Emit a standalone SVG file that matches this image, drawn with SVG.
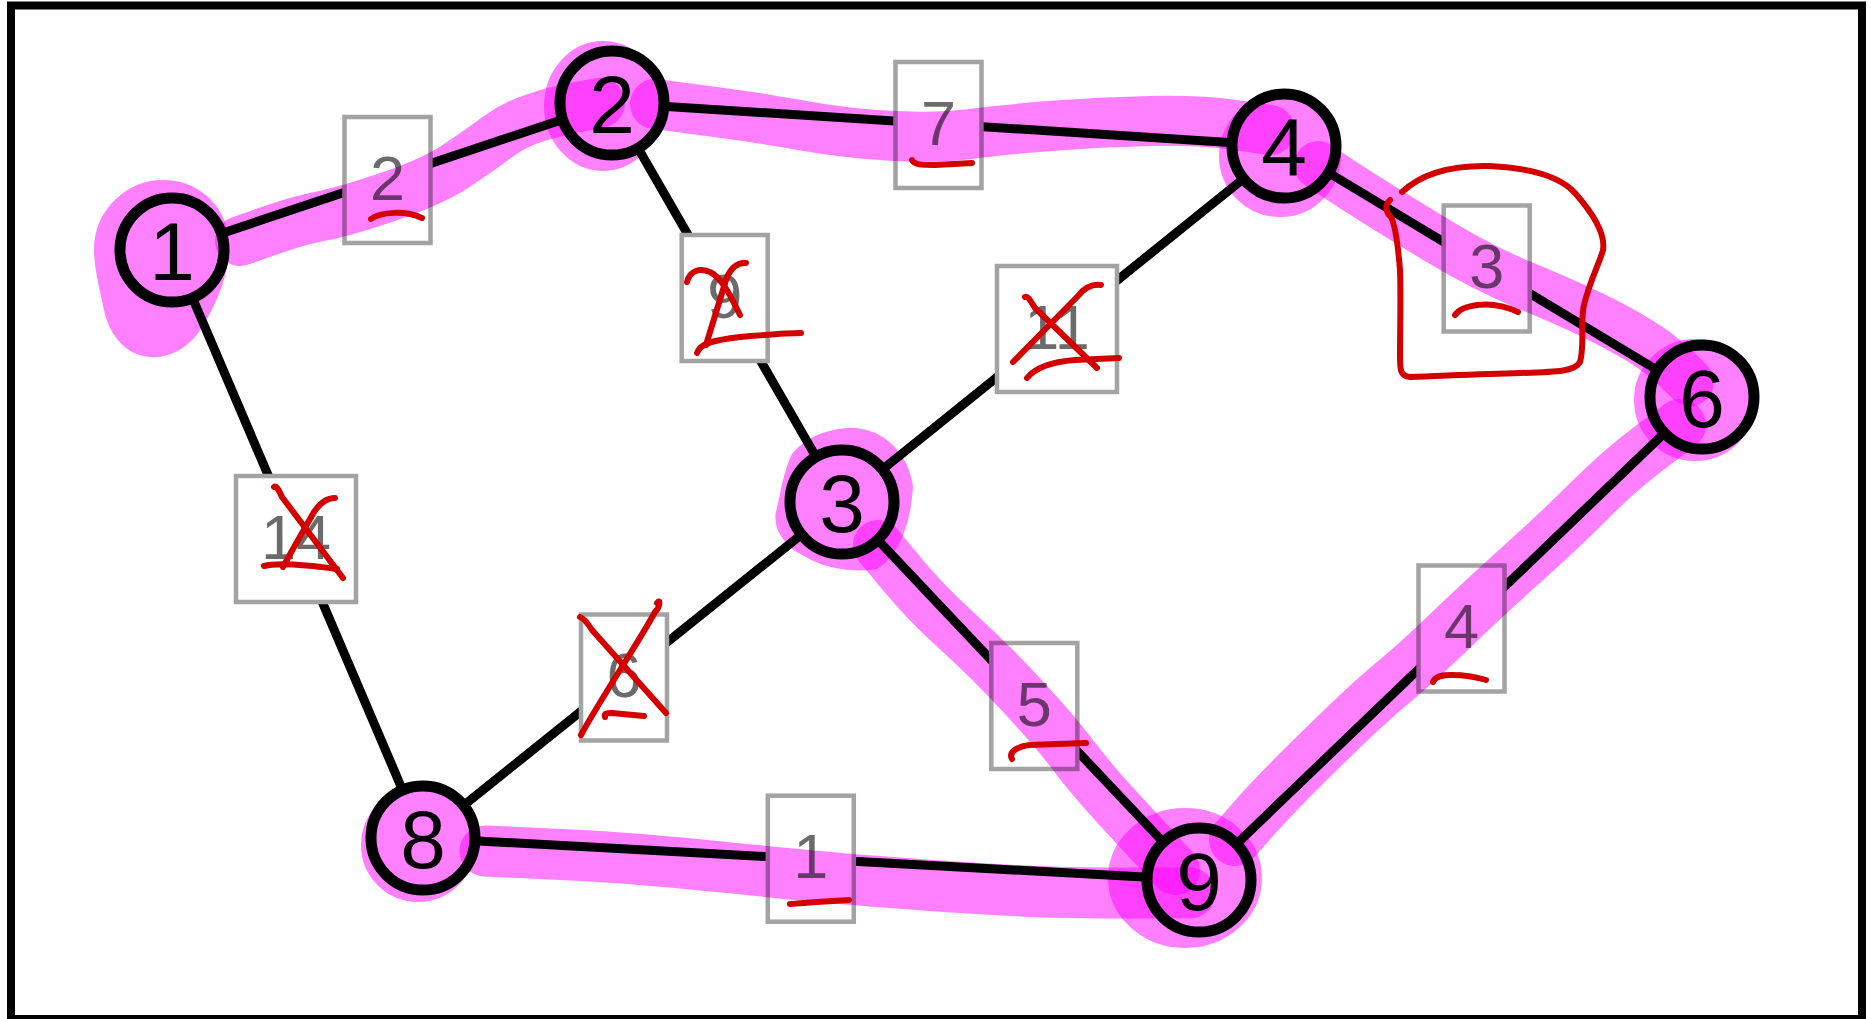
<svg xmlns="http://www.w3.org/2000/svg" width="1871" height="1019" viewBox="0 0 1871 1019">
  <style>
    .edge{stroke:#000;stroke-width:9;stroke-linecap:round}
    .node circle{fill:#fff;stroke:#000;stroke-width:11}
    .node text{font-family:"Liberation Sans",Arial,sans-serif;font-size:82px;text-anchor:middle;fill:#000}
    .lbl rect{fill:#fff;stroke:#a3a3a3;stroke-width:4.5}
    .lbl text{font-family:"Liberation Sans",Arial,sans-serif;font-size:63px;text-anchor:middle;fill:#6b6b6b}
    .hl{mix-blend-mode:multiply}
    .hl path.band{fill:none;stroke:#ff80ff;stroke-width:50;stroke-linecap:round;stroke-linejoin:round}
    .hl .blob{fill:#ff80ff;stroke:#ff80ff;stroke-width:6;stroke-linejoin:round}
    .ink{fill:none;stroke:#d40000;stroke-width:6;stroke-linecap:round;stroke-linejoin:round}
  </style>

  <rect x="0" y="0" width="1871" height="1019" fill="#fff"/>
  <rect x="11" y="5.5" width="1851" height="1013.5" fill="none" stroke="#000" stroke-width="8"/>

  <!-- connectors -->
  <g id="edges">
    <line class="edge" x1="172" y1="250" x2="612" y2="103"/>
    <line class="edge" x1="612" y1="103" x2="1284" y2="146"/>
    <line class="edge" x1="1284" y1="146" x2="1702" y2="397"/>
    <line class="edge" x1="1702" y1="397" x2="1199" y2="880"/>
    <line class="edge" x1="1199" y1="880" x2="423" y2="838"/>
    <line class="edge" x1="423" y1="838" x2="172" y2="250"/>
    <line class="edge" x1="612" y1="103" x2="842" y2="502"/>
    <line class="edge" x1="842" y1="502" x2="1284" y2="146"/>
    <line class="edge" x1="842" y1="502" x2="1199" y2="880"/>
    <line class="edge" x1="842" y1="502" x2="423" y2="838"/>
  </g>

  <!-- edge weight labels -->
  <g id="labels">
    <g id="w-1-2" class="lbl"><rect x="344.5" y="117" width="86" height="126"/><text x="387.5" y="199.5">2</text></g>
    <g id="w-2-4" class="lbl"><rect x="895.5" y="62" width="86" height="126"/><text x="938.5" y="144.5">7</text></g>
    <g id="w-2-3" class="lbl"><rect x="681.7" y="235" width="86" height="126"/><text x="724.7" y="317.5">9</text></g>
    <g id="w-3-4" class="lbl"><rect x="997" y="266" width="120" height="126"/><text x="1057" y="348.5">11</text></g>
    <g id="w-4-6" class="lbl"><rect x="1443.7" y="205.5" width="86" height="126"/><text x="1486.7" y="288">3</text></g>
    <g id="w-1-8" class="lbl"><rect x="236" y="476" width="120" height="126"/><text x="296" y="558.5">14</text></g>
    <g id="w-3-8" class="lbl"><rect x="581" y="614.5" width="86" height="126"/><text x="624" y="697">6</text></g>
    <g id="w-3-9" class="lbl"><rect x="991.3" y="643" width="86" height="126"/><text x="1034.3" y="725.5">5</text></g>
    <g id="w-6-9" class="lbl"><rect x="1418.5" y="565.5" width="86" height="126"/><text x="1461.5" y="648">4</text></g>
    <g id="w-8-9" class="lbl"><rect x="767.8" y="795.7" width="86" height="126"/><text x="810.8" y="878.2">1</text></g>
  </g>

  <!-- vertices -->
  <g id="n1" class="node"><circle cx="172" cy="250" r="52"/><text x="172" y="279.5">1</text></g>
  <g id="n2" class="node"><circle cx="612" cy="103" r="52"/><text x="612" y="132.5">2</text></g>
  <g id="n4" class="node"><circle cx="1284" cy="146" r="52"/><text x="1284" y="175.5">4</text></g>
  <g id="n6" class="node"><circle cx="1702" cy="397" r="52"/><text x="1702" y="426.5">6</text></g>
  <g id="n3" class="node"><circle cx="842" cy="502" r="52"/><text x="842" y="531.5">3</text></g>
  <g id="n8" class="node"><circle cx="423" cy="838" r="52"/><text x="423" y="867.5">8</text></g>
  <g id="n9" class="node"><circle cx="1199" cy="880" r="52"/><text x="1199" y="909.5">9</text></g>

  <!-- highlighter marks (multiply) -->
  <g id="highlight">
    <g class="hl"><path class="blob" d="M163,183 C195,183 222,205 226,240 C228,270 215,300 200,325 C188,345 168,356 150,354 C125,352 110,330 106,305 C103,290 97,270 97,250 C97,212 128,183 163,183 Z"/></g>
    <g class="hl"><path class="band" d="M240,241 L270,230.5 Q300,220 321.5,216 Q343,212 387.5,197 Q432,182 456,166 Q480,150 497.5,137 Q515,124 537.5,117 Q560,110 580,106.5 L600,103"/></g>
    <g class="hl"><ellipse class="blob" cx="603" cy="106" rx="56" ry="62"/></g>
    <g class="hl"><path class="band" d="M655,104 L677.5,107 Q700,110 730,114 Q760,118 805,126 Q850,134 895,136 Q940,138 970,134 Q1000,130 1050,126 Q1100,122 1150,121 Q1200,120 1235,125 L1270,130"/></g>
    <g class="hl"><circle class="blob" cx="1280" cy="156" r="58"/></g>
    <g class="hl"><path class="band" style="stroke-width:48" d="M1318,165 L1329,172.5 Q1340,180 1370,199 Q1400,218 1441.5,243 Q1483,268 1525,285.5 Q1567,303 1592,315 Q1617,327 1638.5,340 Q1660,353 1675,367.5 L1690,382"/></g>
    <g class="hl"><circle class="blob" cx="1695" cy="400" r="58"/></g>
    <g class="hl"><path class="band" style="stroke-width:52" d="M1680,425 L1650,447.5 Q1620,470 1590,500 Q1560,530 1521,565 Q1482,600 1451,630 Q1420,660 1396,680 Q1372,700 1346,725 Q1320,750 1295,775 Q1270,800 1252.5,820 L1235,840"/></g>
    <g class="hl"><ellipse class="blob" cx="1185" cy="878" rx="74" ry="67"/></g>
    <g class="hl"><path class="band" style="stroke-width:51" d="M1190,893 L1145,893 Q1100,893 1070,892.5 Q1040,892 995,889.5 Q950,887 885,882 Q820,877 726.5,867.5 Q633,858 581.5,855.5 Q530,853 507.5,852 L485,851"/></g>
    <g class="hl"><circle class="blob" cx="418" cy="845" r="54"/></g>
    <g class="hl"><path class="blob" d="M856,431 C880,433 905,452 910,487 C908,520 898,552 876,566 C855,570 825,566 805,553 C785,545 776,525 779,512 C783,498 786,470 795,455 C810,437 835,430 856,431 Z"/></g>
    <g class="hl"><path class="band" d="M878,545 L902,574 Q926,603 957.5,631.5 Q989,660 1021.5,695 Q1054,730 1073,755 Q1092,780 1115,805 Q1138,830 1156.5,850 L1175,870"/></g>
  </g>

  <!-- red pen marks -->
  <g id="pen">
    <path class="ink" d="M371,219 C380,212 405,210 422,218"/>
    <path class="ink" d="M912,160 C914,165 922,165 935,165 L972,163"/>
    <path class="ink" d="M687,282 C690,270 700,268 710,272 C722,278 730,295 740,315"/>
    <path class="ink" d="M746,263 C738,262 730,268 726,280 C720,300 712,325 706,345"/>
    <path class="ink" d="M697,353 C700,343 715,340 740,337 C765,335 785,333 801,333"/>
    <path class="ink" d="M1025,297 C1028,296 1030,300 1035,308 L1097,368"/>
    <path class="ink" d="M1101,285 C1092,284 1085,287 1078,296 L1013,362"/>
    <path class="ink" d="M1027,378 C1035,368 1050,362 1075,360 L1119,358"/>
    <path class="ink" d="M274,487 C276,485 279,490 282,497 L343,578"/>
    <path class="ink" d="M335,498 C328,498 320,503 314,512 C305,528 292,550 283,567"/>
    <path class="ink" d="M264,566 C275,563 300,564 337,569"/>
    <path class="ink" d="M580,617 C583,618 587,622 592,630 L666,713"/>
    <path class="ink" d="M657,603 C660,598 661,606 655,612 C640,640 600,700 581,735"/>
    <path class="ink" d="M605,717 C604,713 607,713 612,713 L644,716"/>
    <path class="ink" d="M1390,200 C1385,204 1385,212 1391,217 C1395,225 1398,245 1400,270 C1401,300 1400,330 1400,355 C1400,370 1400,376 1410,377 C1440,376 1480,374 1520,373 C1560,372 1575,371 1580,362 C1585,345 1580,320 1584,305 C1590,280 1600,262 1603,250 C1606,232 1590,210 1575,193 C1560,176 1530,168 1490,166 C1450,165 1420,175 1402,192"/>
    <path class="ink" d="M1455,315 C1462,305 1490,299 1518,312"/>
    <path class="ink" d="M1433,682 C1435,676 1442,675 1452,675 C1466,675 1476,677 1486,680"/>
    <path class="ink" d="M1012,759 C1008,752 1018,746 1030,745 L1086,743"/>
    <path class="ink" d="M790,904 C810,902 830,901 849,900"/>
  </g>
</svg>
